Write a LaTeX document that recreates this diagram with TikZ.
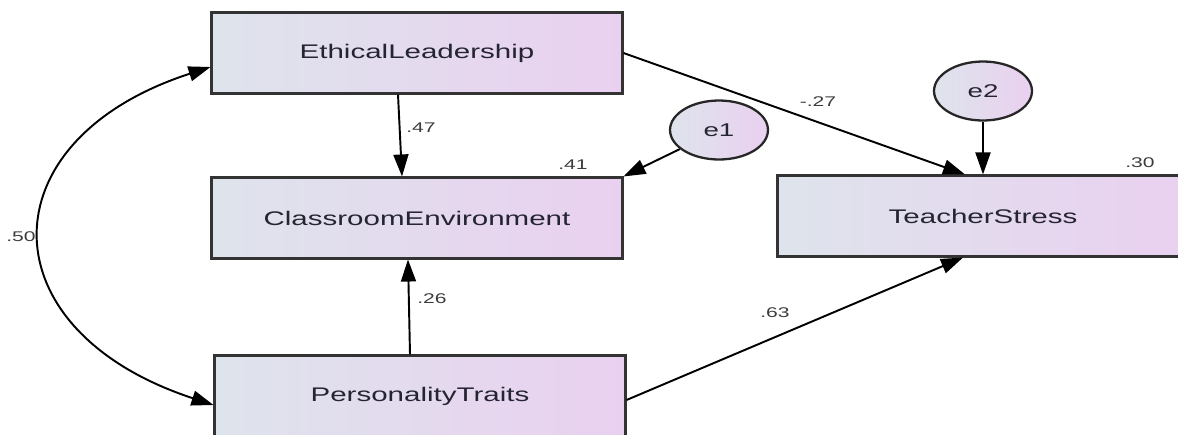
\documentclass[tikz,border=0pt]{standalone}
\usepackage{fontspec}
\setmainfont{Liberation Sans}
\usetikzlibrary{arrows.meta,shapes.geometric}
\newcommand{\widetxt}[1]{\scalebox{1.5}[1]{#1}}
\definecolor{boxleft}{RGB}{222,228,236}
\definecolor{boxmid}{RGB}{230,216,238}
\definecolor{boxright}{RGB}{234,208,240}
\definecolor{txtgray}{RGB}{36,36,50}
\definecolor{numgray}{RGB}{60,60,60}
\tikzset{
  var/.style={draw=black!80, line width=1.2pt, left color=boxleft, middle color=boxmid, right color=boxright,
    minimum width=8.22cm, minimum height=1.62cm, inner sep=0pt, font=\fontsize{11.2}{13}\selectfont, text=txtgray},
  err/.style={ellipse, draw=black!85, line width=1.3pt, left color=boxleft, right color=boxright,
    minimum width=1.96cm, minimum height=1.18cm, inner sep=0pt, font=\fontsize{10.5}{12}\selectfont, text=txtgray},
  regr/.style={draw, line width=1.1pt, -{Triangle[length=0.44cm,width=0.3cm]}},
  cov/.style={draw, line width=1.1pt, {Triangle[length=0.44cm,width=0.3cm]}-{Triangle[length=0.44cm,width=0.3cm]}},
  coef/.style={font=\fontsize{8}{10}\selectfont, text=numgray},
}
\begin{document}
\begin{tikzpicture}[x=0.02cm, y=-0.02cm]
\useasboundingbox (0,0) rectangle (1178,434);

% variables
\node[var] (ethical) at (417,53) {\widetxt{EthicalLeadership}};
\node[var] (classroom) at (417,218) {\widetxt{ClassroomEnvironment}};
\node[var] (personality) at (420,396) {\widetxt{PersonalityTraits}};
\node[var] (teacher) at (983,216) {\widetxt{TeacherStress}};

% errors
\node[err] (e1) at (719,130) {\widetxt{e1}};
\node[err] (e2) at (983,91) {\widetxt{e2}};

% paths
\draw[regr] ([xshift=-0.38cm]ethical.south) -- ([xshift=-0.3cm]classroom.north);
\draw[regr] ([xshift=-0.2cm]personality.north) -- ([xshift=-0.18cm]classroom.south);
\draw[regr] (e1) -- (classroom.north east);
\draw[regr] (e2) -- (teacher.north);
\draw[regr] (ethical.east) -- ([xshift=-0.36cm]teacher.north);
\draw[regr] ([yshift=-0.08cm]personality.east) -- ([xshift=-0.4cm]teacher.south);
\draw[cov] ([yshift=-0.28cm]ethical.west) .. controls (-15,140) and (-15,330) .. ([yshift=-0.18cm]personality.west);

% coefficients
\node[coef] (c47) at (421,128) {\widetxt{.47}};
\node[coef] (c26) at (432,299) {\widetxt{.26}};
\node[coef] (c41) at (573,165) {\widetxt{.41}};
\node[coef] (c30) at (1140,163) {\widetxt{.30}};
\node[coef] (c27) at (818,102) {\widetxt{-.27}};
\node[coef] (c63) at (775,313) {\widetxt{.63}};
\node[coef] (c50) at (21,237) {\widetxt{.50}};
\end{tikzpicture}
\end{document}
